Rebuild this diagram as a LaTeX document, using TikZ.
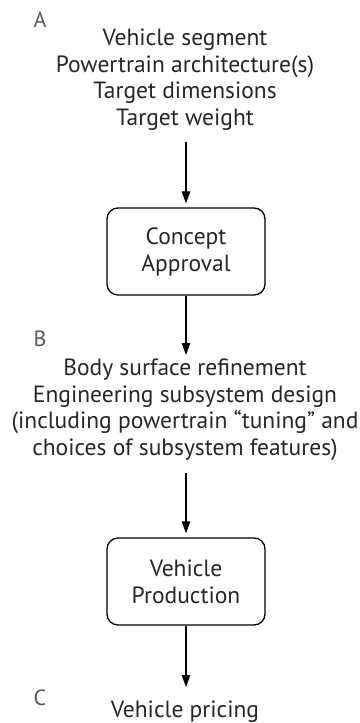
\documentclass[tikz,border=0pt]{standalone}
\usepackage{fontspec}
\setmainfont{PT Sans}
\usetikzlibrary{arrows.meta}
\tikzset{
  txt/.style={align=center, inner sep=0pt, text=black!85,
    font=\fontsize{23.5}{26.5}\selectfont},
  letter/.style={inner sep=0pt, text=black!65, font=\fontsize{22}{24}\selectfont},
  stage/.style={draw, line width=1.3pt, rounded corners=11pt, minimum width=158pt,
    minimum height=87pt, align=center, inner sep=0pt, text=black!85,
    font=\fontsize{23.5}{27}\selectfont},
  arr/.style={-{Triangle[length=12pt,width=8.5pt]}, line width=1.2pt}
}
\begin{document}
\begin{tikzpicture}[x=1pt,y=-1pt]
  \useasboundingbox (0,0) rectangle (359,723);

  \node[letter] (la) at (40,20) {A};
  \node[txt] (ta) at (185,79.5) {Vehicle segment\\Powertrain architecture(s)\\Target dimensions\\Target weight};

  \node[stage] (concept) at (186,251.5) {Concept\\Approval};

  \node[letter] (lb) at (40,339) {B};
  \node[txt] (tb) at (185,410) {Body surface refinement\\Engineering subsystem design\\(including powertrain “tuning” and\\choices of subsystem features)};

  \node[stage] (production) at (186,581.5) {Vehicle\\Production};

  \node[letter] (lc) at (40,697.5) {C};
  \node[txt] (tc) at (185,712) {Vehicle pricing};

  \coordinate (a1) at (186,142);
  \coordinate (a2) at (186,355);
  \coordinate (a3) at (186,473);
  \coordinate (a4) at (186,687);

  \draw[arr, shorten >=4pt] (a1) -- (concept.north);
  \draw[arr] (concept.south) -- (a2);
  \draw[arr, shorten >=4pt] (a3) -- (production.north);
  \draw[arr] (production.south) -- (a4);
\end{tikzpicture}
\end{document}
